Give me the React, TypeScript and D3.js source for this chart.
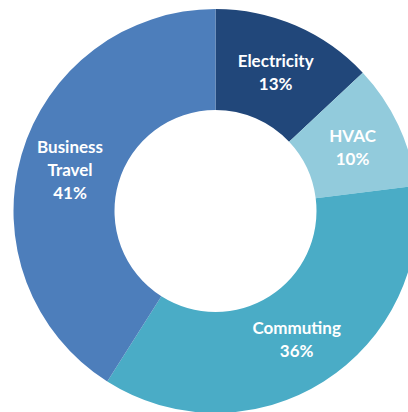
import React from "react";
import * as d3 from "d3";

const categories = ["Electricity", "HVAC", "Commuting", "Business Travel"];
const values = [13, 10, 36, 41];
const labelLines = [["Electricity", "13%"], ["HVAC", "10%"], ["Commuting", "36%"], ["Business", "Travel", "41%"]];
const colors = ["#21477A", "#92CBDC", "#4AACC6", "#4D7EBB"];

export default function App() {
  const W = 408, H = 412;
  const cx = 215.5, cy = 211;
  const outerR = 202, innerR = 101;
  const pie = d3.pie<number>().sort(null).value((d) => d);
  const arcs = pie(values);
  const arc = d3.arc<d3.PieArcDatum<number>>().innerRadius(innerR).outerRadius(outerR);
  const lh = 23;
  return (
    <svg width={W} height={H} style={{ position: "absolute", left: 0, top: 0 }} fontFamily="Lato, 'Open Sans', sans-serif">
      <rect width={W} height={H} fill="#fff" />
      <g transform={`translate(${cx},${cy})`}>
        {arcs.map((a, i) => (
          <path key={categories[i]} d={arc(a) || ""} fill={colors[i]} />
        ))}
        {arcs.map((a, i) => {
          const [x, y] = arc.centroid(a);
          const lines = labelLines[i];
          const y0 = y - ((lines.length - 1) * lh) / 2;
          return (
            <text key={"l" + i} x={x} y={y0} textAnchor="middle" fill="#fff" fontWeight="bold" fontSize={17} dominantBaseline="central">
              {lines.map((t, j) => (
                <tspan key={j} x={x} y={y0 + j * lh}>{t}</tspan>
              ))}
            </text>
          );
        })}
      </g>
    </svg>
  );
}
